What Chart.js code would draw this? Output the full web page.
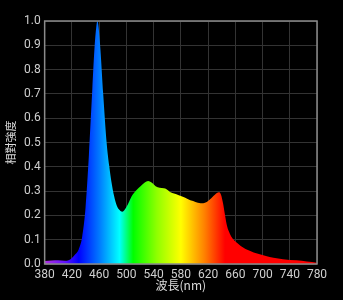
<!DOCTYPE html>
<html>
<head>
<meta charset="utf-8">
<script src="https://cdn.jsdelivr.net/npm/chart.js@4/dist/chart.umd.min.js"></script>
<style>
  html, body { margin: 0; padding: 0; background: #000; }
  #wrap { width: 343px; height: 300px; }
</style>
</head>
<body>
<div id="wrap"><canvas id="spectrumChart"></canvas></div>
<script>
// wavelength (nm) and relative intensity
var wavelengths = [380, 390, 400, 410, 415, 420, 425, 430, 435, 440, 445, 450, 453, 456, 457.5, 459, 462, 466, 471, 475,
    478, 482, 486, 490, 494, 498, 503, 508, 515, 520, 527, 532, 537, 543, 549, 555, 559, 565, 570, 577,
    583, 590, 598, 605, 613, 618, 623, 630, 636, 639, 642, 645, 648, 652, 656, 662, 668, 675, 682, 692,
    705, 716, 730, 750, 765, 780];
var intensity = [0.012, 0.014, 0.015, 0.013, 0.015, 0.025, 0.04, 0.06, 0.11, 0.23, 0.45, 0.72, 0.88, 0.98, 1.0, 0.98, 0.88, 0.70, 0.50, 0.40,
    0.34, 0.28, 0.24, 0.222, 0.215, 0.225, 0.25, 0.28, 0.305, 0.318, 0.335, 0.342, 0.335, 0.32, 0.314, 0.312, 0.308, 0.295, 0.29, 0.283,
    0.277, 0.268, 0.259, 0.252, 0.25, 0.255, 0.266, 0.285, 0.295, 0.285, 0.25, 0.2, 0.155, 0.125, 0.105, 0.088, 0.074, 0.062, 0.054, 0.043,
    0.033, 0.026, 0.02, 0.015, 0.01, 0.005];
var xTicks = [380, 420, 460, 500, 540, 580, 620, 660, 700, 740, 780];
var yTicks = [0.0, 0.1, 0.2, 0.3, 0.4, 0.5, 0.6, 0.7, 0.8, 0.9, 1.0];

// spectral colour stops (nm -> colour)
var spectrumStops = [
    [380, '#b030e0'], [410, '#6010ff'], [430, '#0000ff'], [460, '#0078ff'], [490, '#00ffff'],
    [510, '#00ff00'], [545, '#90ff00'], [580, '#ffff00'], [615, '#ff8000'], [645, '#ff0000'], [780, '#ff0000']
];

var points = [];
for (var i = 0; i < wavelengths.length; i++) {
    points.push({ x: wavelengths[i], y: intensity[i] });
}

function spectrumFill(context) {
    var chart = context.chart;
    var area = chart.chartArea;
    if (!area) return '#0080ff';
    var xs = chart.scales.x;
    var x0 = xs.getPixelForValue(380), x1 = xs.getPixelForValue(780);
    var g = chart.ctx.createLinearGradient(x0, 0, x1, 0);
    spectrumStops.forEach(function (s) {
        g.addColorStop((s[0] - 380) / 400, s[1]);
    });
    return g;
}

var frame = {
    id: 'frame',
    afterDatasetsDraw: function (chart) {
        var a = chart.chartArea, ctx = chart.ctx;
        ctx.save();
        ctx.strokeStyle = '#8a8a8a';
        ctx.lineWidth = 1.5;
        ctx.strokeRect(a.left, a.top, a.right - a.left, a.bottom - a.top);
        ctx.restore();
    }
};

var ctx = document.getElementById('spectrumChart');
var spectrumChart = new Chart(ctx, {
    type: 'line',
    data: {
        datasets: [{
            data: points,
            fill: 'origin',
            backgroundColor: spectrumFill,
            borderWidth: 0,
            pointRadius: 0,
            cubicInterpolationMode: 'monotone'
        }]
    },
    options: {
        responsive: true,
        maintainAspectRatio: false,
        animation: false,
        layout: { padding: { top: 21, right: 26, left: 5, bottom: 9 } },
        plugins: { legend: { display: false }, tooltip: { enabled: false } },
        scales: {
            x: {
                type: 'linear',
                min: 380,
                max: 780,
                afterBuildTicks: function (axis) {
                    axis.ticks = xTicks.map(function (v) { return { value: v }; });
                },
                grid: { color: '#333', lineWidth: 1, drawTicks: false },
                border: { display: false },
                ticks: { color: '#cfcfcf', font: { size: 12, family: 'Roboto', lineHeight: 1 }, maxRotation: 0, padding: 5 },
                title: { display: true, text: '波長(nm)', color: '#dcdcdc', font: { size: 12, family: 'Noto Sans CJK TC', lineHeight: 1 }, padding: { top: -7, bottom: 0 } }
            },
            y: {
                min: 0,
                max: 1,
                afterBuildTicks: function (axis) {
                    axis.ticks = yTicks.map(function (v) { return { value: v }; });
                },
                grid: { color: '#333', lineWidth: 1, drawTicks: false },
                border: { display: false },
                ticks: {
                    color: '#cfcfcf', font: { size: 12, family: 'Roboto' }, padding: 4,
                    callback: function (v) { return v.toFixed(1); }
                },
                title: { display: true, text: '相對強度', color: '#dcdcdc', font: { size: 11, family: 'Noto Sans CJK TC', lineHeight: 1 }, padding: { top: 0, bottom: 4 } }
            }
        }
    },
    plugins: [frame]
});
</script>
</body>
</html>
